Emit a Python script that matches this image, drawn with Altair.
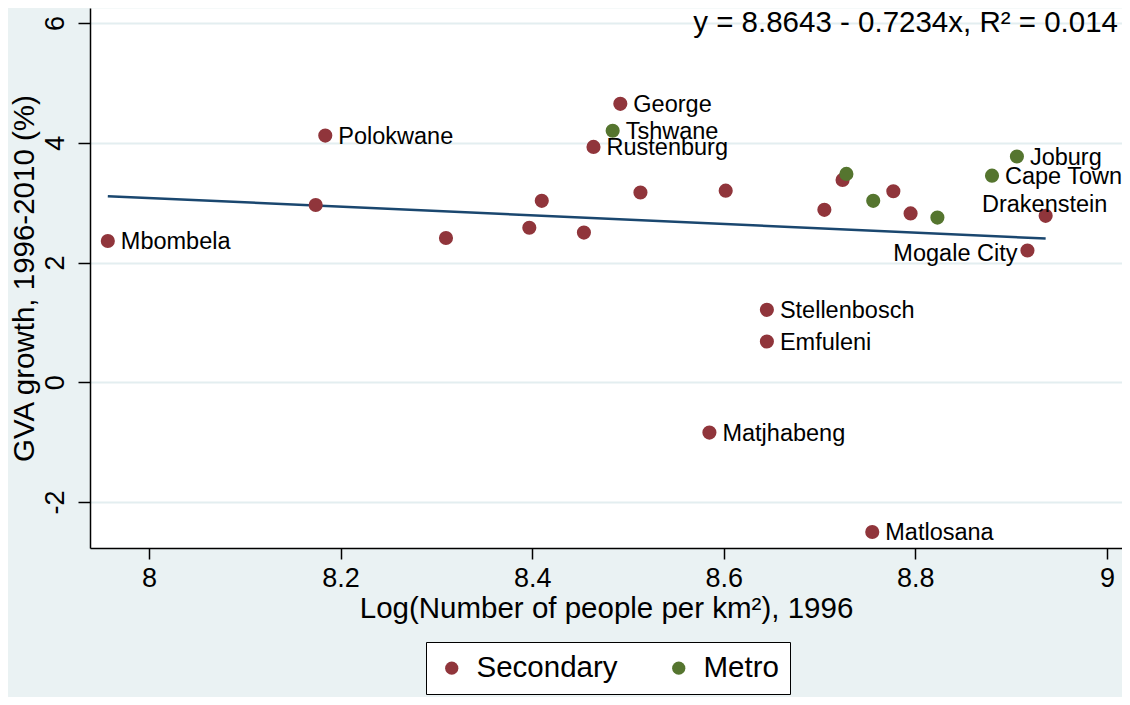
import altair as alt
import pandas as pd

# ---- data ----
sec_names = ["Mbombela", "", "Polokwane", "", "", "", "", "Rustenburg", "George", "",
             "Matjhabeng", "", "Stellenbosch", "Emfuleni", "", "", "Matlosana", "", "",
             "Mogale City", "Drakenstein"]
sec_x = [7.957, 8.174, 8.184, 8.310, 8.397, 8.410, 8.454, 8.464, 8.492, 8.513,
         8.585, 8.602, 8.645, 8.645, 8.705, 8.724, 8.755, 8.777, 8.795,
         8.917, 8.936]
sec_y = [2.36, 2.96, 4.12, 2.41, 2.58, 3.03, 2.50, 3.93, 4.65, 3.17,
         -0.84, 3.20, 1.21, 0.68, 2.88, 3.38, -2.50, 3.19, 2.82,
         2.20, 2.78]

metro_names = ["Tshwane", "", "", "", "Cape Town", "Joburg"]
metro_x = [8.484, 8.728, 8.756, 8.823, 8.880, 8.906]
metro_y = [4.20, 3.48, 3.03, 2.75, 3.45, 3.77]

groups = ["Secondary", "Metro"]
colors = ["#90353b", "#55752f"]

fit_intercept = 8.8643
fit_slope = -0.7234
equation = "y = 8.8643 - 0.7234x, R\u00b2 = 0.014"

x_title = "Log(Number of people per km\u00b2), 1996"
y_title = "GVA growth, 1996-2010 (%)"
x_ticks = [8, 8.2, 8.4, 8.6, 8.8, 9]
y_ticks = [-2, 0, 2, 4, 6]

# ---- tables ----
df = pd.DataFrame({
    "x": sec_x + metro_x,
    "y": sec_y + metro_y,
    "type": [groups[0]] * len(sec_x) + [groups[1]] * len(metro_x),
    "label": sec_names + metro_names,
})
line_df = pd.DataFrame({"x": [min(df["x"]), max(df["x"])]})
eq_df = pd.DataFrame({"t": [equation]})

FONT = "Liberation Sans"
W, H = 1032, 540

x_enc = alt.X(
    "x:Q",
    scale=alt.Scale(domain=[7.9384, 9.0157], nice=False, zero=False),
    axis=alt.Axis(values=x_ticks, labelExpr="'' + datum.value", title=x_title,
                  grid=False, tickSize=11, labelPadding=6, titlePadding=3,
                  labelFontSize=27, titleFontSize=29.5),
)
y_enc = alt.Y(
    "y:Q",
    scale=alt.Scale(domain=[-2.768, 6.2505], nice=False, zero=False),
    axis=alt.Axis(values=y_ticks, labelExpr="'' + datum.value", title=y_title,
                  grid=True, gridColor="#e3eef0", gridWidth=2,
                  tickSize=12, labelAngle=270, labelAlign="center",
                  labelBaseline="bottom", labelPadding=9, titlePadding=2,
                  labelFontSize=27, titleFontSize=29.5),
)

fit = alt.Chart(line_df).transform_calculate(
    y=f"{fit_intercept} + ({fit_slope}) * datum.x"
).mark_line(color="#1a476f", strokeWidth=2.5).encode(x=x_enc, y=y_enc)

points = alt.Chart(df).mark_circle(size=200, opacity=1).encode(
    x=x_enc,
    y=y_enc,
    color=alt.Color(
        "type:N",
        scale=alt.Scale(domain=groups, range=colors),
        sort=groups,
        legend=alt.Legend(
            title=None, orient="none", legendX=336, legendY=634,
            direction="horizontal", fillColor="white", strokeColor="black",
            padding=11, symbolType="circle", symbolSize=175,
            symbolStrokeWidth=0, labelFontSize=29.5, labelFont=FONT,
            labelColor="black", labelOffset=10, columnPadding=46,
        ),
    ),
)

right_labels = alt.Chart(df).transform_filter(
    "datum.label != '' && datum.label != 'Mogale City' && datum.label != 'Drakenstein'"
).mark_text(align="left", baseline="middle", dx=13, dy=1, fontSize=23.5,
            color="black").encode(x=x_enc, y=y_enc, text="label:N")

left_labels = alt.Chart(df).transform_filter(
    "datum.label == 'Mogale City'"
).mark_text(align="right", baseline="middle", dx=-10, dy=3, fontSize=23.5,
            color="black").encode(x=x_enc, y=y_enc, text="label:N")

top_labels = alt.Chart(df).transform_filter(
    "datum.label == 'Drakenstein'"
).mark_text(align="center", baseline="middle", dx=-1, dy=-11, fontSize=23.5,
            color="black").encode(x=x_enc, y=y_enc, text="label:N")

eq_text = alt.Chart(eq_df).mark_text(
    align="right", baseline="middle", fontSize=29.5, color="black"
).encode(x=alt.value(W - 4), y=alt.value(15), text="t:N")

chart = alt.layer(fit, points, right_labels, left_labels, top_labels, eq_text).properties(
    width=W, height=H,
    autosize=alt.AutoSizeParams(type="none"),
    padding={"left": 82, "top": 0, "right": 0, "bottom": 149},
    background="#eaf2f3",
).configure(
    font=FONT,
).configure_view(
    fill="white", stroke="transparent",
).configure_axis(
    domainColor="black", domainWidth=1.5, tickColor="black", tickWidth=1.5,
    labelColor="black", titleColor="black", titleFontWeight="normal",
    labelFont=FONT, titleFont=FONT,
)

chart.save("out.html", embed_options={"renderer": "svg", "actions": False})
